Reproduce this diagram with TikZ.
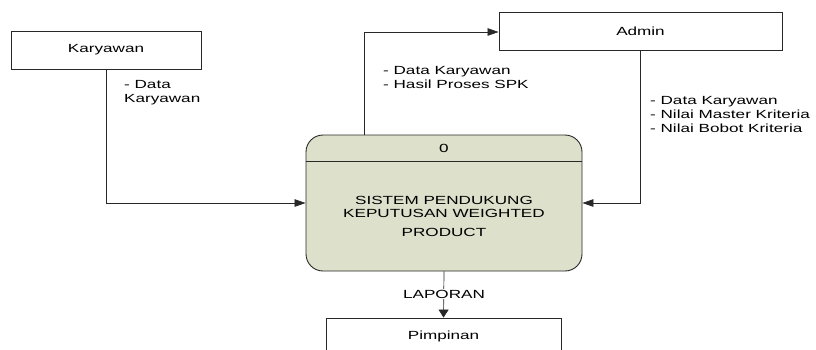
\documentclass[tikz,border=0pt]{standalone}
\usepackage{fontspec}
\setmainfont{Liberation Sans}[FakeStretch=1.45]
\usetikzlibrary{arrows.meta}
\definecolor{procfill}{RGB}{221,224,203}
\definecolor{linec}{RGB}{40,40,40}
\tikzset{
  entity/.style={draw=linec, line width=0.9bp, fill=white, inner sep=0pt, font=\fontsize{11.8bp}{14bp}\selectfont},
  proc/.style={draw=linec, line width=0.9bp, fill=procfill, rounded corners=17bp, inner sep=0pt},
  lbl/.style={inner sep=0pt, align=left, anchor=west, font=\fontsize{11.8bp}{14bp}\selectfont},
  ptxt/.style={inner sep=0pt, align=center, font=\fontsize{11.8bp}{13bp}\selectfont},
  flow/.style={draw=linec, line width=0.7bp},
  harr/.style={-{Triangle[length=11bp,width=7.5bp]}},
  varr/.style={-{Triangle[length=8bp,width=10bp]}}
}
\begin{document}
\begin{tikzpicture}[x=1bp,y=-1bp]
\clip (0,0) rectangle (816,349);
\fill[white] (0,0) rectangle (816,349);
% entities
\node[entity, minimum width=190bp, minimum height=38bp] (kary) at (106,50) {Karyawan};
\node[entity, minimum width=283bp, minimum height=38bp] (admin) at (640.5,31) {Admin};
\node[entity, minimum width=235bp, minimum height=42bp, text depth=0pt] (pimp) at (443.5,339) {};
\node[ptxt, font=\fontsize{11.8bp}{14bp}\selectfont] (pimpt) at (443.5,336) {Pimpinan};
% process
\node[proc, minimum width=276bp, minimum height=136bp] (proc) at (444,203) {};
\coordinate (dl) at (306,161);
\coordinate (dr) at (582,161);
\draw[draw=linec, line width=0.9bp] (dl) -- (dr);
\node[ptxt] (pid) at (444,148) {0};
\node[ptxt] (ptext) at (444,216) {SISTEM PENDUKUNG\\KEPUTUSAN WEIGHTED\\[6bp]PRODUCT};
% connectors
\coordinate (k1) at (106,203);
\draw[flow, harr] (kary.south) -- (k1) -- (proc.west |- k1);
\node[lbl] (lk) at (124,93) {- Data\\Karyawan};
\coordinate (p1) at (364,135);
\coordinate (p2) at (364,32);
\draw[flow, harr] (p1) -- (p2) -- (admin.west |- p2);
\node[lbl] (la) at (383,77) {- Data Karyawan\\- Hasil Proses SPK};
\coordinate (a1) at (640,203);
\draw[flow, harr] (admin.south -| a1) -- (a1) -- (proc.east |- a1);
\node[lbl] (lp) at (650,114) {- Data Karyawan\\- Nilai Master Kriteria\\- Nilai Bobot Kriteria};
\draw[flow, varr] (proc.south) -- (pimp.north);
\node[ptxt, fill=white, inner sep=1pt, font=\fontsize{11.8bp}{14bp}\selectfont] (lap) at (444,294) {LAPORAN};
\end{tikzpicture}
\end{document}
